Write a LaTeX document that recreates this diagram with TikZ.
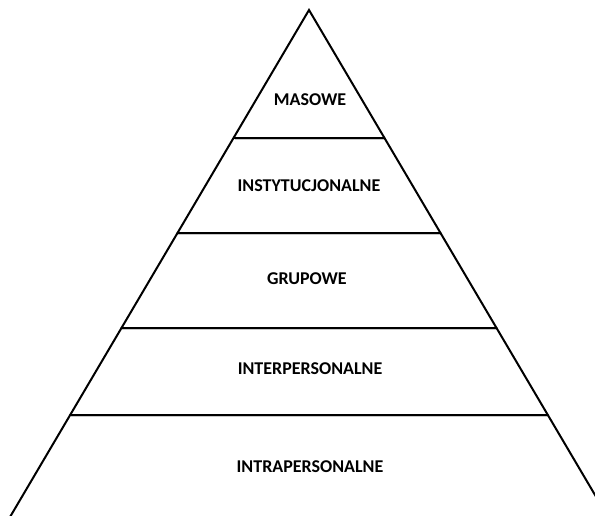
\documentclass[tikz,border=0pt]{standalone}
\usepackage{fontspec}
\setmainfont{Carlito}
\usetikzlibrary{calc}
\begin{document}
\begin{tikzpicture}[x=1pt,y=-1pt,
  edge/.style={line width=2pt,black,line cap=round},
  shade/.style={line width=2pt,black!22},
  lbl/.style={font=\bfseries\fontsize{18}{21}\selectfont,inner sep=0pt}]
\useasboundingbox (0,0) rectangle (595,516);
\clip (0,0) rectangle (595,516);
\coordinate (top) at (309,10);
\coordinate (bl) at (10,517);
\coordinate (br) at (608,517);
\foreach \n/\y in {1/138,2/233,3/328,4/415}{
  \coordinate (l\n) at ($(top)!{(\y-10)/507}!(bl)$);
  \coordinate (r\n) at ($(top)!{(\y-10)/507}!(br)$);
  \draw[shade] ([xshift=1pt,yshift=-1.5pt]l\n) -- ([xshift=1pt,yshift=-1.5pt]r\n);
  \draw[edge] (l\n) -- (r\n);
}
\draw[edge,line join=miter] (bl) -- (top) -- (br);
\node[lbl] (t1) at (310,100) {MASOWE};
\node[lbl] (t2) at (309,186) {INSTYTUCJONALNE};
\node[lbl] (t3) at (307,279) {GRUPOWE};
\node[lbl] (t4) at (310,369) {INTERPERSONALNE};
\node[lbl] (t5) at (310,467) {INTRAPERSONALNE};
\end{tikzpicture}
\end{document}
